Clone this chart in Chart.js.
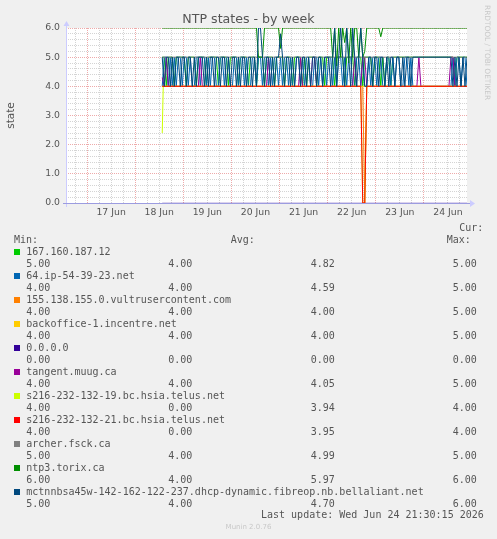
<!DOCTYPE html>
<html>
<head>
<meta charset="utf-8">
<title>NTP states - by week</title>
<script src="https://cdn.jsdelivr.net/npm/chart.js@4.4.1/dist/chart.umd.min.js"></script>
<style>
  html, body { margin: 0; padding: 0; background: #f0f0f0; }
  #wrap { position: relative; width: 497px; height: 539px; overflow: hidden; }
  #graph { position: absolute; left: 0; top: 0; }
  .txt { position: absolute; white-space: pre; color: #555; font-family: "DejaVu Sans Mono", monospace; font-size: 10px; line-height: 12px; }
  .sw { position: absolute; width: 6px; height: 6px; }
  #title { position: absolute; left: 0; width: 497px; top: 11px; text-align: center; color: #555; font-family: "DejaVu Sans", sans-serif; font-size: 12.6px; line-height: 15px; }
  #rrd { position: absolute; left: 492px; top: 5px; transform-origin: 0 0; transform: rotate(90deg); white-space: pre; color: #c8c8c8; font-family: "DejaVu Sans", sans-serif; font-size: 7.4px; line-height: 9px; }
  #munin { position: absolute; left: 0; width: 497px; top: 523px; text-align: center; color: #c8c8c8; font-family: "DejaVu Sans", sans-serif; font-size: 7px; line-height: 9px; }
</style>
</head>
<body>
<div id="wrap">
  <canvas id="graph" width="497" height="539"></canvas>
  <div id="title">NTP states - by week</div>
  <div id="rrd">RRDTOOL / TOBI OETIKER</div>
  <div id="munin">Munin 2.0.76</div>
</div>
<script>
// hours counted from 16 Jun 00:00, graph shows 16 Jun 13:30 .. 24 Jun 21:30
var startHour = 13.5;
var endHour = 213.5;
var firstSample = 61.5; // 18 Jun 13:30, one sample per hour after that

var xTickHours = [36, 60, 84, 108, 132, 156, 180, 204];
var xTickLabels = ["17 Jun", "18 Jun", "19 Jun", "20 Jun", "21 Jun", "22 Jun", "23 Jun", "24 Jun"];
var yTickLabels = ["0.0", "1.0", "2.0", "3.0", "4.0", "5.0", "6.0"];

var seriesNames = ["167.160.187.12", "64.ip-54-39-23.net", "155.138.155.0.vultrusercontent.com",
  "backoffice-1.incentre.net", "0.0.0.0", "tangent.muug.ca", "s216-232-132-19.bc.hsia.telus.net",
  "s216-232-132-21.bc.hsia.telus.net", "archer.fsck.ca", "ntp3.torix.ca",
  "mctnnbsa45w-142-162-122-237.dhcp-dynamic.fibreop.nb.bellaliant.net"];
var seriesColors = ["#00cc00", "#0066b3", "#ff8000", "#ffcc00", "#330099", "#990099",
  "#ccff00", "#ff0000", "#808080", "#008f00", "#00487d"];

var curText = ["5.00", "4.00", "4.00", "4.00", "0.00", "4.00", "4.00", "4.00", "5.00", "6.00", "5.00"];
var minText = ["4.00", "4.00", "4.00", "4.00", "0.00", "4.00", "0.00", "0.00", "4.00", "4.00", "4.00"];
var avgText = ["4.82", "4.59", "4.00", "4.00", "0.00", "4.05", "3.94", "3.95", "4.99", "5.97", "4.70"];
var maxText = ["5.00", "5.00", "5.00", "5.00", "0.00", "5.00", "4.00", "4.00", "5.00", "6.00", "6.00"];

// hourly series (one line per day)
var host167 = [5,5,4,5,5,5,4,5,5,5,5,
  5,4,5,5,5,5,4,5,5,5,5,4,5,5,5,5,5,4,5,5,5,5,4,5,
  5,5,5,4,5,5,5,5,4,5,5,5,4,5,5,5,4,5,5,5,5,4,5,5,
  5,5,4,5,5,5,4,5,5,5,5,4,5,4,5,5,5,5,4,5,5,5,4,5,
  5,5,5,4,5,5,5,5,4,5,5,5,5,4,5,5,5,4,5,5,5,5,4,5,
  5,5,4,5,4,5,5,4,5,5,5,5,5,5,5,5,5,5,5,5,5,5,5,5,
  5,5,5,5,5,5,5,5,5,5,5,5,5,5,5,4,5,5,5,5,5,5];
var host64 = [4,5,5,4,5,4,5,4,5,5,4,
  5,5,4,5,4,4,5,5,4,5,5,4,5,4,5,5,4,4,5,5,4,5,5,4,
  4,5,5,4,5,5,4,5,4,4,5,5,4,5,5,4,5,5,4,5,4,5,5,4,
  5,4,5,5,4,5,4,4,5,5,4,5,4,5,5,4,4,5,5,4,5,4,5,4,
  5,5,4,5,4,5,5,4,5,4,5,5,4,4,5,5,4,5,4,4,5,4,5,5,
  4,5,5,4,4,5,5,4,5,4,5,5,4,4,5,5,4,5,4,4,4,4,4,4,
  4,4,4,4,4,4,4,4,4,4,4,4,4,4,5,4,5,5,4,5,5,4];
var tangent = [4.3,4,5,4,4,4,4,4,4,4,4,
  4,4,4,4,4,4,4,4,5,4,4,4,4,4,4,4,4,4,4,4,4,4,4,4,
  4,4,4,4,4,4,4,4,4,4,4,4,4,4,4,4,4,4,5,4,4,4,4,4,
  4,4,4,4,4,4,4,4,4,4,5,4,4,4,4,4,5,5,4,4,4,4,4,4,
  4,4,4,4,4,4,4,4,4,4,4,4,4,5,4,4,4,5,5,4,4,4,4,4,
  4,4,4,4,4,4,4,4,4,4,4,4,4,4,4,4,4,4,4,4,4,5,4,4,
  4,4,4,4,4,4,4,4,4,4,4,4,4,5,5,4,4,4,4,4,4,4];
var ntp3 = [6,6,6,6,6,6,6,6,6,6,6,
  6,6,6,6,6,6,6,6,6,6,6,6,6,6,6,6,6,6,6,6,6,6,6,6,
  6,6,6,6,6,6,6,6,6,6,6,6,6,5,5,5,6,6,6,6,6,6,6,6,
  5.3,6,6,6,6,6,6,6,6,6,6,6,6,6,6,6,6,6,6,6,6,6,6,6,
  6,6,5,6,4.7,6,5,6,5.5,6,4.8,6,5,6,6,5,6,5,5.2,6,6,6,6,6,
  6,6,5.7,6,6,6,6,6,6,6,6,6,6,6,6,6,6,6,6,6,6,6,6,6,
  6,6,6,6,6,6,6,6,6,6,6,6,6,6,6,6,6,6,6,6,6,6];
var mctnnbsa = [5,4,5,5,4,5,4,5,5,4,5,
  5,4,5,5,4,5,4,5,5,5,4,5,4,5,5,4,5,5,4,5,5,4,5,4,
  5,5,4,5,4,5,5,4,5,5,4,5,4,6,6,5,4,5,5,4,5,4,5,5,
  5.8,5,4,5,5,4,5,4,5,5,4,5,5,4,5,4,5,5,4,5,5,4,5,5,
  5,4,5,6,4,5,6,5,4,6,5,4,6,5,4,5,6,5,4,4,5,5,4,5,
  5,4,5,5,4,5,4,5,5,4,5,5,4,5,4,5,5,4,5,5,5,5,5,5,
  5,5,5,5,5,5,5,5,5,5,5,5,5,5,4,5,4,5,4,5,4,5];

// series that only change at a few moments
var vultrHours = [61.5, 161.5, 162.5, 163.5, 213.5];
var vultrValues = [4, 4, 0, 4, 4];
var backofficeHours = [61.5, 213.5];
var backofficeValues = [4, 4];
var nullHostHours = [61.5, 213.5];
var nullHostValues = [0, 0];
var telus19Hours = [61.5, 62, 160.5, 161.5, 162.5, 163.5, 213.5];
var telus19Values = [2.4, 4, 4, 0, 0, 4, 4];
var telus21Hours = [61.5, 160.5, 161.5, 162.5, 163.5, 213.5];
var telus21Values = [4, 4, 0, 0, 4, 4];
var archerHours = [61.5, 213.5];
var archerValues = [5, 5];

function hourly(values) {
  var pts = [];
  for (var i = 0; i < values.length; i++) pts.push({x: firstSample + i, y: values[i]});
  return pts;
}
function sparse(hours, values) {
  return hours.map(function (h, i) { return {x: h, y: values[i]}; });
}

var seriesData = [
  hourly(host167),
  hourly(host64),
  sparse(vultrHours, vultrValues),
  sparse(backofficeHours, backofficeValues),
  sparse(nullHostHours, nullHostValues),
  hourly(tangent),
  sparse(telus19Hours, telus19Values),
  sparse(telus21Hours, telus21Values),
  sparse(archerHours, archerValues),
  hourly(ntp3),
  hourly(mctnnbsa)
];

var lineColors = seriesColors.slice();
lineColors[4] = "rgba(51,0,153,0.35)";

var datasets = seriesData.map(function (d, i) {
  return {
    label: seriesNames[i],
    data: d,
    borderColor: lineColors[i],
    borderWidth: 1,
    pointRadius: 0,
    tension: 0,
    borderJoinStyle: "bevel",
    fill: false,
    order: seriesData.length - i
  };
});

var gridX = [];
for (var h = 18; h <= 210; h += 6) gridX.push(h);
var gridY = [];
for (var k = 0; k <= 30; k++) gridY.push(k / 5);

var majorColor = "#eeaaaa";
var minorColor = "#d4d4d4";

var muninFrame = {
  id: "muninFrame",
  beforeDraw: function (chart) {
    var a = chart.chartArea, ctx = chart.ctx;
    ctx.save();
    ctx.fillStyle = "#ffffff";
    ctx.fillRect(a.left, a.top, a.right - a.left, a.bottom - a.top);
    ctx.restore();
  },
  afterDatasetsDraw: function (chart) {
    var a = chart.chartArea, ctx = chart.ctx;
    ctx.save();
    ctx.lineWidth = 1;
    ctx.strokeStyle = "#ccccff";
    ctx.fillStyle = "#ccccff";
    ctx.beginPath();
    ctx.moveTo(a.left + 0.5, a.bottom + 4);
    ctx.lineTo(a.left + 0.5, a.top - 4);
    ctx.stroke();
    ctx.beginPath();
    ctx.moveTo(a.left - 2.5, a.top - 2);
    ctx.lineTo(a.left + 3.5, a.top - 2);
    ctx.lineTo(a.left + 0.5, a.top - 7);
    ctx.closePath();
    ctx.fill();
    ctx.beginPath();
    ctx.moveTo(a.right + 3, a.bottom - 3);
    ctx.lineTo(a.right + 3, a.bottom + 4);
    ctx.lineTo(a.right + 8, a.bottom + 0.5);
    ctx.closePath();
    ctx.fill();
    ctx.strokeStyle = "#9c9ce0";
    ctx.beginPath();
    ctx.moveTo(a.left - 3, a.bottom + 0.5);
    ctx.lineTo(a.right + 3, a.bottom + 0.5);
    ctx.stroke();
    ctx.restore();
  }
};

var tickFont = {family: "'DejaVu Sans'", size: 9.3};

new Chart(document.getElementById("graph"), {
  type: "line",
  data: {datasets: datasets},
  options: {
    responsive: false,
    animation: false,
    devicePixelRatio: 1,
    layout: {padding: {left: 0, top: 28, right: 30, bottom: 316}},
    plugins: {legend: {display: false}, tooltip: {enabled: false}, title: {display: false}},
    scales: {
      x: {
        type: "linear",
        min: startHour,
        max: endHour,
        afterFit: function (s) { s.height = 20; },
        afterBuildTicks: function (s) { s.ticks = gridX.map(function (v) { return {value: v}; }); },
        ticks: {
          autoSkip: false,
          maxRotation: 0,
          padding: 4,
          color: "#555",
          font: tickFont,
          callback: function (v) {
            var n = xTickHours.indexOf(v);
            return n >= 0 ? xTickLabels[n] : "";
          }
        },
        grid: {
          drawTicks: false,
          lineWidth: 1,
          color: function (c) { return c.tick && c.tick.value % 24 === 0 ? majorColor : minorColor; }
        },
        border: {display: false, dash: [1, 1]}
      },
      y: {
        min: 0,
        max: 6,
        afterFit: function (s) { s.width = 66; },
        afterBuildTicks: function (s) { s.ticks = gridY.map(function (v) { return {value: v}; }); },
        ticks: {
          autoSkip: false,
          padding: 6,
          color: "#555",
          font: tickFont,
          callback: function (v) {
            var r = Math.round(v);
            return Math.abs(v - r) < 1e-6 ? yTickLabels[r] : "";
          }
        },
        grid: {
          drawTicks: false,
          lineWidth: 1,
          color: function (c) {
            if (!c.tick) return minorColor;
            var v = c.tick.value;
            return Math.abs(v - Math.round(v)) < 1e-6 ? majorColor : minorColor;
          }
        },
        border: {display: false, dash: [1, 1]},
        title: {display: true, text: "state", color: "#555", font: {family: "'DejaVu Sans'", size: 10.5}, padding: {top: 5, bottom: 0}}
      }
    }
  },
  plugins: [muninFrame]
});

// legend text below the graph
var wrap = document.getElementById("wrap");
function addText(str, left, topPx) {
  var d = document.createElement("div");
  d.className = "txt";
  d.style.left = left + "px";
  d.style.top = topPx + "px";
  d.textContent = str;
  wrap.appendChild(d);
}
addText("Cur:", 459.3, 221.5);
addText("Min:", 14, 234);
addText("Avg:", 230.7, 234);
addText("Max:", 446.7, 234);
var colLeft = [26.3, 168.3, 310.7, 452.7];
for (var i = 0; i < seriesNames.length; i++) {
  var rowTop = 246 + 24 * i;
  var sw = document.createElement("div");
  sw.className = "sw";
  sw.style.left = "14px";
  sw.style.top = (249 + 24 * i) + "px";
  sw.style.background = seriesColors[i];
  wrap.appendChild(sw);
  addText(seriesNames[i], 26.3, rowTop);
  addText(curText[i], colLeft[0], rowTop + 12);
  addText(minText[i], colLeft[1], rowTop + 12);
  addText(avgText[i], colLeft[2], rowTop + 12);
  addText(maxText[i], colLeft[3], rowTop + 12);
}
addText("Last update: Wed Jun 24 21:30:15 2026", 261, 509);
</script>
</body>
</html>
